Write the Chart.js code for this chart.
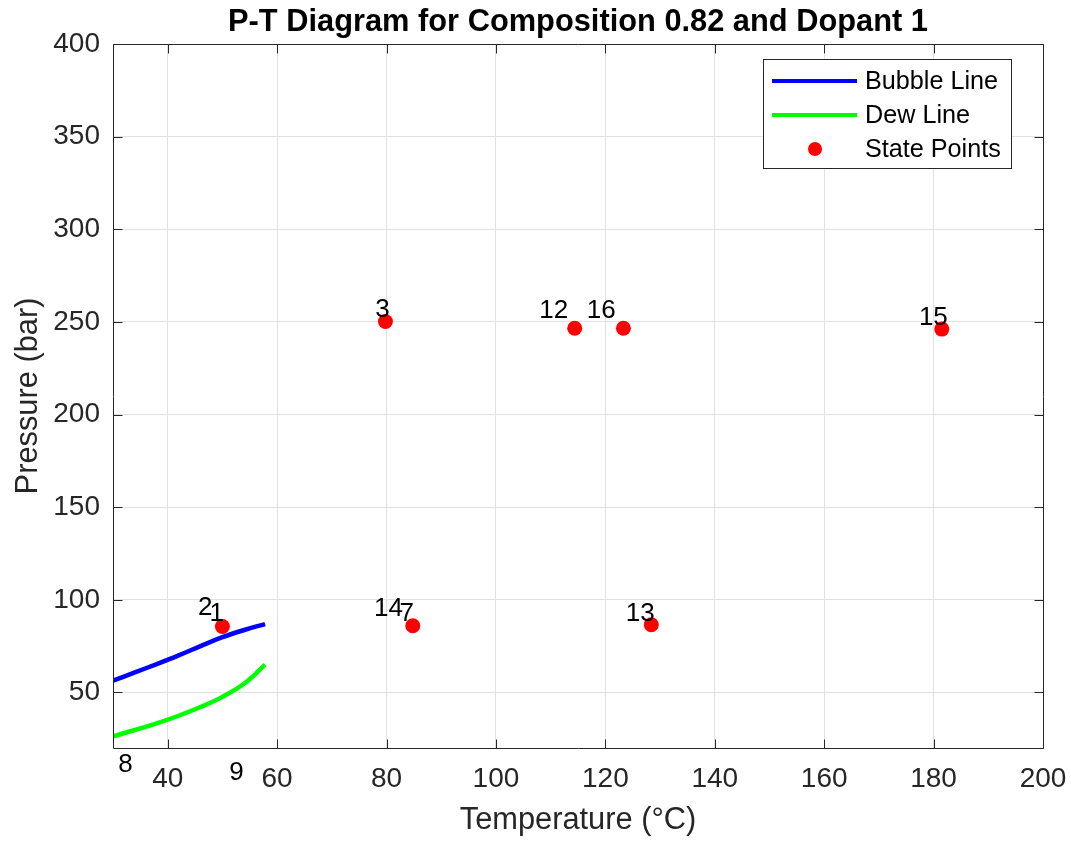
<!DOCTYPE html>
<html>
<head>
<meta charset="utf-8">
<script src="https://cdn.jsdelivr.net/npm/chart.js@4.4.1/dist/chart.umd.min.js"></script>
<style>
html,body{margin:0;padding:0;background:#fff;}
canvas{display:block;}
</style>
</head>
<body>
<canvas id="c" width="1071" height="841"></canvas>
<script>
// ---- data ----
const titleText = 'P-T Diagram for Composition 0.82 and Dopant 1';
const xLabel = 'Temperature (°C)';
const yLabel = 'Pressure (bar)';
const xTicks = [40, 60, 80, 100, 120, 140, 160, 180, 200];
const yTicks = [50, 100, 150, 200, 250, 300, 350, 400];

const bubbleT = [30, 34, 38, 42, 46, 50, 54, 57.8];
const bubbleP = [56.3, 60.8, 65.3, 70.0, 75.0, 79.8, 83.7, 86.9];
const dewT = [30, 34, 38, 42, 46, 50, 54, 57.8];
const dewP = [26.3, 29.7, 33.3, 37.4, 42.1, 47.6, 54.8, 65.0];

const dotT = [50.0, 79.8, 84.8, 33.0, 53.5, 114.4, 128.4, 181.5, 123.3];
const dotP = [85.6, 250.2, 86.0, 5.0, 0.5, 246.6, 86.5, 246.1, 246.6];

const labelText = ['1', '2', '3', '7', '8', '9', '12', '13', '14', '15', '16'];
const labelT = [50.3, 48.2, 80.6, 85.0, 33.6, 53.9, 113.2, 129.0, 83.0, 182.6, 121.9];
const labelP = [88.3, 91.9, 252.9, 88.3, 7.2, 2.9, 252.2, 88.3, 91.4, 248.4, 252.2];

const legendNames = ['Bubble Line', 'Dew Line', 'State Points'];

// ---- chart ----
const FONT = "'Liberation Sans', Arial, Helvetica, sans-serif";
Chart.defaults.font.family = FONT;
const AX = '#262626';

const toXY = (xs, ys) => xs.map((x, i) => ({x: x, y: ys[i]}));

const decorations = {
  id: 'decorations',
  afterDraw(chart) {
    const ctx = chart.ctx;
    const a = chart.chartArea;
    const xs = chart.scales.x, ys = chart.scales.y;
    ctx.save();
    // box
    ctx.strokeStyle = AX;
    ctx.lineWidth = 1;
    const L = Math.round(a.left) + 0.5, R = Math.round(a.right) + 0.5;
    const T = Math.round(a.top) + 0.5, B = Math.round(a.bottom) + 0.5;
    ctx.beginPath();
    ctx.rect(L, T, R - L, B - T);
    ctx.stroke();
    // inward ticks
    const tl = 9;
    ctx.beginPath();
    xTicks.forEach(v => {
      const px = Math.round(xs.getPixelForValue(v)) + 0.5;
      ctx.moveTo(px, B); ctx.lineTo(px, B - tl);
      ctx.moveTo(px, T); ctx.lineTo(px, T + tl);
    });
    yTicks.forEach(v => {
      const py = Math.round(ys.getPixelForValue(v)) + 0.5;
      ctx.moveTo(L, py); ctx.lineTo(L + tl, py);
      ctx.moveTo(R, py); ctx.lineTo(R - tl, py);
    });
    ctx.stroke();

    // title
    ctx.fillStyle = '#000';
    ctx.font = 'bold 30.8px ' + FONT;
    ctx.textAlign = 'center';
    ctx.textBaseline = 'alphabetic';
    ctx.fillText(titleText, (a.left + a.right) / 2, 31);

    // axis titles
    ctx.fillStyle = AX;
    ctx.font = '30.8px ' + FONT;
    ctx.fillText(xLabel, (a.left + a.right) / 2, 829);
    ctx.save();
    ctx.translate(37, (a.top + a.bottom) / 2);
    ctx.rotate(-Math.PI / 2);
    ctx.fillText(yLabel, 0, 0);
    ctx.restore();

    // point labels
    ctx.fillStyle = '#000';
    ctx.font = '26px ' + FONT;
    ctx.textAlign = 'right';
    ctx.textBaseline = 'alphabetic';
    labelText.forEach((t, i) => {
      ctx.fillText(t, xs.getPixelForValue(labelT[i]), ys.getPixelForValue(labelP[i]));
    });

    // legend
    const lx = 763.5, ly = 59.5, lw = 248, lh = 109;
    ctx.fillStyle = '#fff';
    ctx.fillRect(lx, ly, lw, lh);
    ctx.strokeStyle = AX;
    ctx.lineWidth = 1;
    ctx.strokeRect(lx, ly, lw, lh);
    const rows = [81, 115, 149];
    const ds = chart.data.datasets;
    ctx.lineCap = 'butt';
    for (let i = 0; i < 2; i++) {
      ctx.strokeStyle = ds[i].borderColor;
      ctx.lineWidth = 4;
      ctx.beginPath();
      ctx.moveTo(772, rows[i]);
      ctx.lineTo(857, rows[i]);
      ctx.stroke();
    }
    ctx.fillStyle = ds[2].backgroundColor;
    ctx.beginPath();
    ctx.arc(815, rows[2], 7, 0, Math.PI * 2);
    ctx.fill();
    ctx.fillStyle = '#000';
    ctx.font = '25.2px ' + FONT;
    ctx.textAlign = 'left';
    ctx.textBaseline = 'middle';
    legendNames.forEach((n, i) => ctx.fillText(n, 865, rows[i] + 1));
    ctx.restore();
  }
};

new Chart(document.getElementById('c'), {
  type: 'scatter',
  data: {
    datasets: [
      {
        label: legendNames[0],
        data: toXY(bubbleT, bubbleP),
        showLine: true,
        borderColor: '#0000ff',
        backgroundColor: '#0000ff',
        borderWidth: 4.5,
        pointRadius: 0,
        tension: 0.4,
        borderCapStyle: 'butt',
        clip: 0
      },
      {
        label: legendNames[1],
        data: toXY(dewT, dewP),
        showLine: true,
        borderColor: '#00ff00',
        backgroundColor: '#00ff00',
        borderWidth: 4.5,
        pointRadius: 0,
        tension: 0.4,
        borderCapStyle: 'butt',
        clip: 0
      },
      {
        label: legendNames[2],
        data: toXY(dotT, dotP),
        showLine: false,
        borderColor: '#ff0000',
        backgroundColor: '#ff0000',
        borderWidth: 0,
        pointRadius: 7.5,
        clip: 0
      }
    ]
  },
  options: {
    responsive: false,
    animation: false,
    devicePixelRatio: 1,
    layout: {padding: {top: 44, right: 28, left: 0, bottom: 0}},
    plugins: {
      legend: {display: false},
      title: {display: false},
      tooltip: {enabled: false}
    },
    scales: {
      x: {
        type: 'linear',
        min: 30,
        max: 200,
        afterBuildTicks: s => { s.ticks = xTicks.map(v => ({value: v})); },
        afterFit: s => { s.height = 93; s.paddingLeft = 0; s.paddingRight = 0; },
        grid: {color: '#e1e1e1', lineWidth: 1, drawTicks: false},
        border: {display: false},
        ticks: {font: {size: 28}, color: AX, padding: 14, autoSkip: false, maxRotation: 0, minRotation: 0}
      },
      y: {
        type: 'linear',
        min: 20,
        max: 400,
        afterBuildTicks: s => { s.ticks = yTicks.map(v => ({value: v})); },
        afterFit: s => { s.width = 113; s.paddingTop = 0; s.paddingBottom = 0; },
        grid: {color: '#e1e1e1', lineWidth: 1, drawTicks: false},
        border: {display: false},
        ticks: {font: {size: 28}, color: AX, padding: 13}
      }
    }
  },
  plugins: [decorations]
});
</script>
</body>
</html>
